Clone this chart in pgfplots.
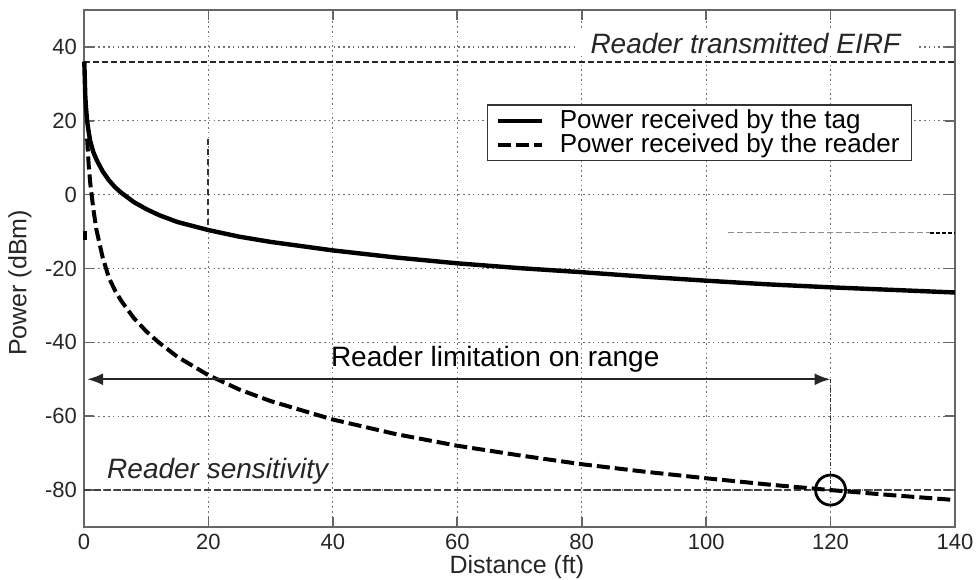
\documentclass[border=0pt]{standalone}
\usepackage{fontspec}
\setmainfont{Liberation Sans}
\usepackage{pgfplots}
\pgfplotsset{compat=1.18}
\usetikzlibrary{arrows.meta}

\begin{document}
\begin{tikzpicture}
\begin{axis}[
  scale only axis, width=435.5pt, height=258.5pt,
  xmin=0, xmax=140, ymin=-90, ymax=50,
  xtick={0,20,...,140}, ytick={-80,-60,...,40},
  grid=major,
  grid style={line width=0.6pt, black!55, dash pattern=on 0.8pt off 1.6pt},
  axis line style={black!60, line width=1pt},
  tick align=inside, major tick length=5pt,
  tick style={black!60, line width=0.8pt},
  /pgf/number format/assume math mode=true,
  ticklabel style={font=\fontsize{11}{13}\selectfont, text=black!85},
  xlabel={Distance (ft)}, ylabel={Power (dBm)},
  label style={font=\fontsize{12.5}{14}\selectfont, text=black!85},
  xlabel style={at={(axis description cs:0.497,-0.078)}, anchor=center},
  ylabel style={at={(axis description cs:-0.0735,0.472)}, anchor=center},
  legend style={at={(axis description cs:0.951,0.818)}, anchor=north east,
    draw=black!80, line width=0.8pt, fill=white,
    font=\fontsize{13}{14}\selectfont, inner xsep=4pt, inner ysep=0.5pt,
    row sep=-3pt,
    /tikz/every odd column/.append style={column sep=6pt}},
  legend cell align=left,
  legend image code/.code={\draw[#1] (0pt,0pt) -- (22pt,0pt);},
  clip=false,
]
% Reader transmitted EIRP level
\addplot[forget plot, black!85, line width=1pt, dash pattern=on 3pt off 1.5pt]
  coordinates {(0,36) (140,36)};
% Reader sensitivity level
\addplot[forget plot, black!75, line width=0.8pt, dash pattern=on 3.5pt off 1.5pt]
  coordinates {(0,-80) (140,-80)};
% small artefacts of the original figure
\addplot[forget plot, black!80, line width=1pt, densely dashed]
  coordinates {(20,15) (20,-9)};
\addplot[forget plot, black!45, line width=0.5pt, dash pattern=on 3pt off 1.5pt]
  coordinates {(103.5,-10.3) (136,-10.3)};
\addplot[forget plot, black, line width=1pt, dash pattern=on 2pt off 1pt]
  coordinates {(136,-10.3) (140,-10.3)};
\addplot[forget plot, black, line width=2pt]
  coordinates {(0.15,-9.8) (0.15,-12.2)};
\addplot[forget plot, black!80, line width=0.7pt, dash pattern=on 2pt off 1pt on 0.6pt off 1pt]
  coordinates {(120,-50) (120,-80)};

% Power received by the tag
\addplot[black, line width=2.2pt] coordinates {
 (0.05,36) (0.1,33) (0.2,27) (0.3,24) (0.5,20) (0.75,17) (1,14.5) (1.5,11.5)
 (2,9.5) (3,6.3) (4,3.9) (5,2.0) (6,0.5) (8,-2.0) (10,-3.9) (12,-5.5)
 (15,-7.4) (20,-9.6) (25,-11.4) (30,-12.8) (40,-15.1) (50,-17.0) (60,-18.6)
 (70,-19.9) (80,-21.0) (90,-22.2) (100,-23.3) (110,-24.3) (120,-25.1)
 (130,-25.8) (140,-26.5)
};
\addlegendentry{Power received by the tag}
% Power received by the reader
\addplot[black, line width=2pt, dash pattern=on 6.5pt off 2.5pt] coordinates {
 (0.5,15.2) (0.75,8.2) (1,3.2) (1.5,-3.9) (2,-9.5) (3,-17) (4,-22.5)
 (5,-26) (6,-28.8) (8,-33.4) (10,-37) (12,-40) (15,-43.9) (20,-48.9)
 (25,-52.8) (30,-55.9) (40,-60.9) (50,-64.8) (60,-68.0) (70,-70.6)
 (80,-73.0) (90,-75.0) (100,-76.8) (110,-78.5) (120,-80) (130,-81.4)
 (140,-82.7)
};
\addlegendentry{Power received by the reader}

% circle at the sensitivity crossing
\addplot[forget plot, only marks, mark=o, mark size=7.5pt,
  mark options={black, line width=1.4pt}] coordinates {(120,-80)};

% range arrow
\draw[black!85, line width=1.2pt, {Latex[length=8pt,width=6pt]}-{Latex[length=8pt,width=6pt]}]
  (axis cs:0.5,-50) -- (axis cs:120,-50);

\node[font=\fontsize{14}{16}\selectfont] at (axis cs:66.1,-44.6) {Reader limitation on range};
\node[font=\fontsize{14}{16}\selectfont\itshape, anchor=west, text=black!85]
  at (axis cs:2.6,-74.9) {Reader sensitivity};
\node[font=\fontsize{14}{16}\selectfont\itshape, fill=white, inner xsep=8pt, inner ysep=1pt, text=black!85]
  at (axis cs:106.3,41) {Reader transmitted EIRF};
\end{axis}
\pgfresetboundingbox
\path ([xshift=-42pt,yshift=-26pt]current axis.south west)
  rectangle ([xshift=12.5pt,yshift=5pt]current axis.north east);
\end{tikzpicture}
\end{document}
